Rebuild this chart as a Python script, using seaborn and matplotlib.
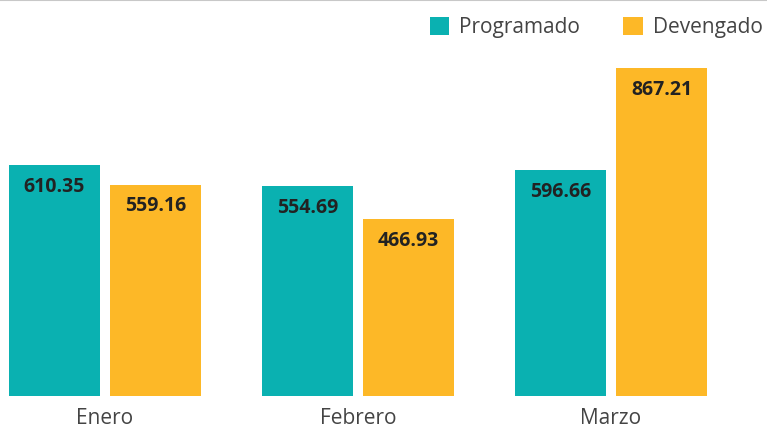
import matplotlib
matplotlib.use("Agg")
import matplotlib.pyplot as plt
from matplotlib.patches import Patch
import seaborn as sns
import pandas as pd

months = ["Enero", "Febrero", "Marzo"]
programado = [610.35, 554.69, 596.66]
devengado = [559.16, 466.93, 867.21]
series = ["Programado", "Devengado"]
colors = ["#0AB1B1", "#FDB827"]

df = pd.DataFrame({
    "mes": months * 2,
    "valor": programado + devengado,
    "serie": [series[0]] * len(months) + [series[1]] * len(months),
})

sns.set_theme(style="white")
plt.rcParams["font.family"] = ["Open Sans", "DejaVu Sans"]

fig = plt.figure(figsize=(7.67, 4.28), dpi=100)
ax = fig.add_axes([0, 32 / 428, 1, 396 / 428])

sns.barplot(data=df, x="mes", y="valor", hue="serie", palette=colors,
            width=0.8, gap=0.1, saturation=1, ax=ax, legend=False,
            linewidth=0, edgecolor="none")

ax.set_xlim(-105 / 253, (767 - 105) / 253)
ax.set_ylim(0, 396 / (328 / 867.21))

for cont in ax.containers:
    for bar, v in zip(cont, cont.datavalues):
        ax.annotate(f"{v:.2f}", (bar.get_x() + bar.get_width() / 2, bar.get_height()),
                    xytext=(0, -15.5), textcoords="offset points",
                    ha="center", va="center", fontsize=14, fontweight="bold",
                    color="#222222")

for s in ["left", "right", "bottom"]:
    ax.spines[s].set_visible(False)
ax.spines["top"].set_visible(True)
ax.spines["top"].set_color("#C8C8C8")
ax.spines["top"].set_linewidth(1.5)

ax.set_xlabel("")
ax.set_ylabel("")
ax.set_yticks([])
ax.tick_params(axis="x", length=0, pad=9, labelsize=15, labelcolor="#444444")

handles = [Patch(facecolor=c, edgecolor="none", label=s) for c, s in zip(colors, series)]
fig.legend(handles=handles, loc="upper right", bbox_to_anchor=(1.013, 0.995),
           ncol=2, frameon=False, fontsize=15, handlelength=0.95, handleheight=0.95,
           handletextpad=0.45, columnspacing=2.1, labelcolor="#444444",
           borderaxespad=0.3)

fig.savefig("out.png", dpi=100)
